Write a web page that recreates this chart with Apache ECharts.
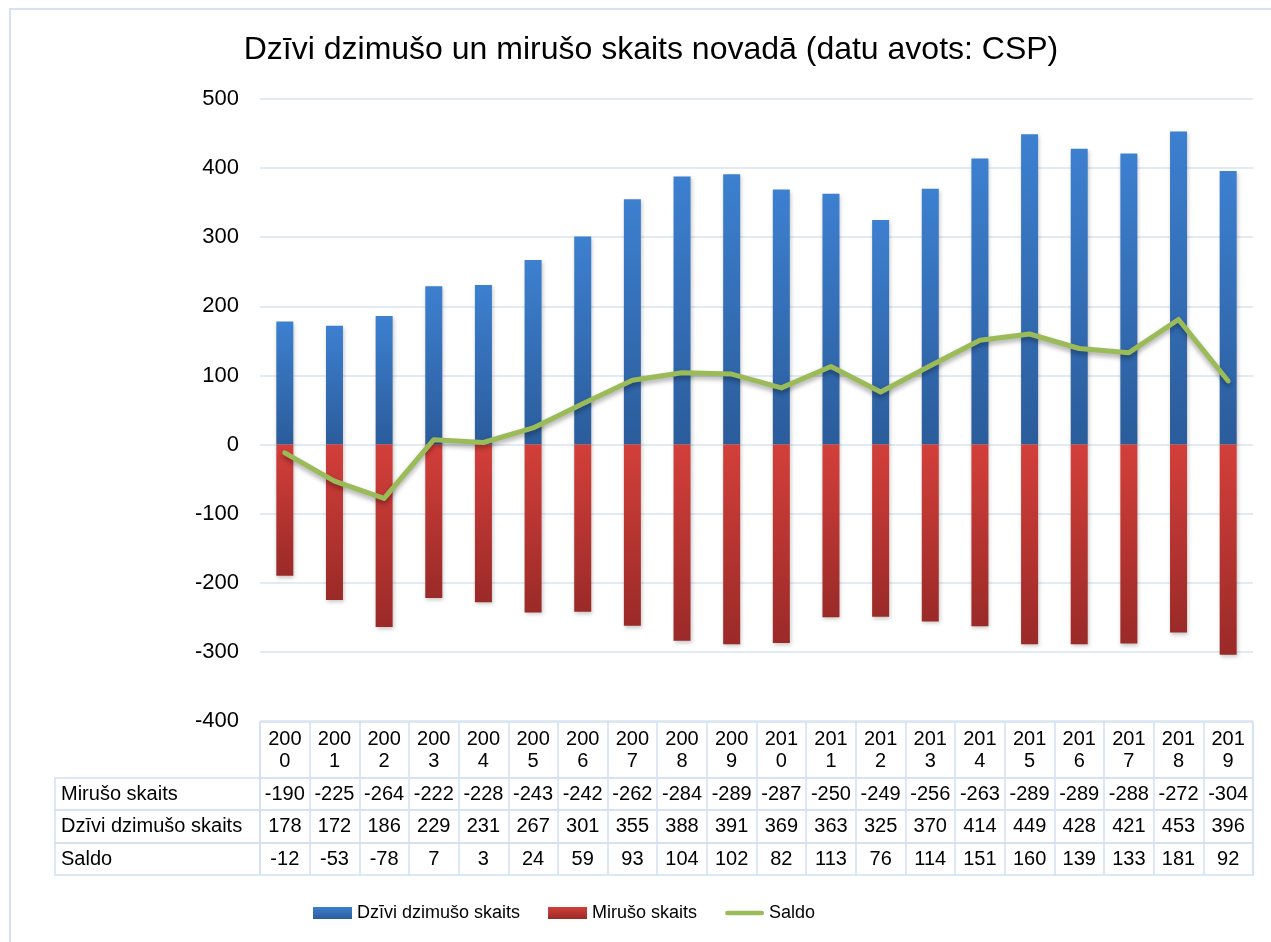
<!DOCTYPE html>
<html>
<head>
<meta charset="utf-8">
<script src="https://cdn.jsdelivr.net/npm/echarts@6/dist/echarts.min.js"></script>
<style>
html,body{margin:0;padding:0;background:#fff;}
#chart{width:1271px;height:942px;}
</style>
</head>
<body>
<div id="chart"></div>
<script>
const years = ['2000','2001','2002','2003','2004','2005','2006','2007','2008','2009','2010','2011','2012','2013','2014','2015','2016','2017','2018','2019'];
const births = [178,172,186,229,231,267,301,355,388,391,369,363,325,370,414,449,428,421,453,396];
const deaths = [-190,-225,-264,-222,-228,-243,-242,-262,-284,-289,-287,-250,-249,-256,-263,-289,-289,-288,-272,-304];
const saldo = [-12,-53,-78,7,3,24,59,93,104,102,82,113,76,114,151,160,139,133,181,92];
const yTicks = {min:-400, max:500, interval:100};
const titleText = 'Dzīvi dzimušo un mirušo skaits novadā (datu avots: CSP)';
const nameBirths = 'Dzīvi dzimušo skaits';
const nameDeaths = 'Mirušo skaits';
const nameSaldo = 'Saldo';

const FONT = '"Liberation Sans", Arial, sans-serif';
const CELL = '#d3e0f1';
const L = 260, R = 18;
const TFS = 20;

const tableRows = [
  {label:null, top:722, height:56, fmt:(v,i)=>years[i].slice(0,3)+'\n'+years[i].slice(3)},
  {label:nameDeaths, top:778, height:32, fmt:(v,i)=>String(deaths[i])},
  {label:nameBirths, top:810, height:33, fmt:(v,i)=>String(births[i])},
  {label:nameSaldo, top:843, height:32, fmt:(v,i)=>String(saldo[i])}
];

const grids = [{left:L, right:R, top:99, height:622}];
const xAxes = [{
  type:'category', data:years, gridIndex:0,
  axisLine:{show:false}, axisTick:{show:false}, axisLabel:{show:false}, splitLine:{show:false}
}];
const yAxes = [{
  type:'value', gridIndex:0, min:yTicks.min, max:yTicks.max, interval:yTicks.interval,
  axisLine:{show:false}, axisTick:{show:false},
  axisLabel:{fontSize:22, color:'#000', fontFamily:FONT, margin:21},
  splitLine:{lineStyle:{color:'#d9e4f2', width:1.5}}
}];
const graphics = [
  {type:'rect', shape:{x:10,y:9,width:1400,height:1100}, style:{fill:'none', stroke:'#d6e2f1', lineWidth:2}, silent:true}
];

tableRows.forEach((row, k) => {
  const gi = k + 1;
  grids.push({left:L, right:R, top:row.top, height:row.height, show:true, borderColor:CELL, borderWidth:1.5, backgroundColor:'transparent'});
  xAxes.push({
    type:'category', data:years, gridIndex:gi, position:'bottom',
    axisLine:{show:false}, axisTick:{show:false},
    axisLabel:{interval:0, formatter:row.fmt, fontSize:TFS, lineHeight:22, color:'#000', fontFamily:FONT,
      margin:-(row.height/2), verticalAlign:'middle', align:'center'},
    splitLine:{show:true, interval:0, lineStyle:{color:CELL, width:1.5}}
  });
  yAxes.push({type:'value', gridIndex:gi, min:0, max:1, show:false});
  if (row.label) {
    graphics.push({type:'rect', shape:{x:55, y:row.top, width:L-55, height:row.height},
      style:{fill:'none', stroke:CELL, lineWidth:1.5}, silent:true});
    graphics.push({type:'text', x:61, y:row.top+row.height/2,
      style:{text:row.label, font:TFS+'px '+FONT, fill:'#000', textVerticalAlign:'middle', textAlign:'left'}, silent:true});
  }
});

const barShadow = {shadowBlur:4, shadowColor:'rgba(0,0,0,0.22)', shadowOffsetY:2, shadowOffsetX:1};

const option = {
  animation:false,
  backgroundColor:'#fff',
  title:{text:titleText, left:646, textAlign:'center', top:29,
    textStyle:{fontSize:32, fontWeight:'normal', color:'#000', fontFamily:FONT}},
  legend:{
    left:308, top:899, itemWidth:39, itemHeight:12, itemGap:28,
    textStyle:{fontSize:18, color:'#000', fontFamily:FONT},
    data:[{name:nameBirths, icon:'rect'},{name:nameDeaths, icon:'rect'},
      {name:nameSaldo, icon:'path://M2.5,0 H39.5 A2.5,2.5 0 0 1 39.5,5 H2.5 A2.5,2.5 0 0 1 2.5,0 Z', itemStyle:{color:'#9bbb59'}}]
  },
  grid:grids,
  xAxis:xAxes,
  yAxis:yAxes,
  graphic:graphics,
  series:[
    {name:nameBirths, type:'bar', stack:'t', data:births, barWidth:17, xAxisIndex:0, yAxisIndex:0,
      itemStyle:Object.assign({color:new echarts.graphic.LinearGradient(0,0,0,1,[{offset:0,color:'#3d80d0'},{offset:1,color:'#2b5c9b'}])}, barShadow)},
    {name:nameDeaths, type:'bar', stack:'t', data:deaths, barWidth:17, xAxisIndex:0, yAxisIndex:0,
      itemStyle:Object.assign({color:new echarts.graphic.LinearGradient(0,0,0,1,[{offset:0,color:'#d33f3a'},{offset:1,color:'#9a2a28'}])}, barShadow)},
    {name:nameSaldo, type:'line', data:saldo, xAxisIndex:0, yAxisIndex:0, symbol:'none', showSymbol:false,
      itemStyle:{color:'#9bbb59'},
      lineStyle:{color:'#9bbb59', width:5, shadowBlur:5, shadowColor:'rgba(0,0,0,0.35)', shadowOffsetY:3, cap:'round', join:'round'},
      z:5}
  ]
};

const chart = echarts.init(document.getElementById('chart'), null, {renderer:'canvas'});
chart.setOption(option);
</script>
</body>
</html>
